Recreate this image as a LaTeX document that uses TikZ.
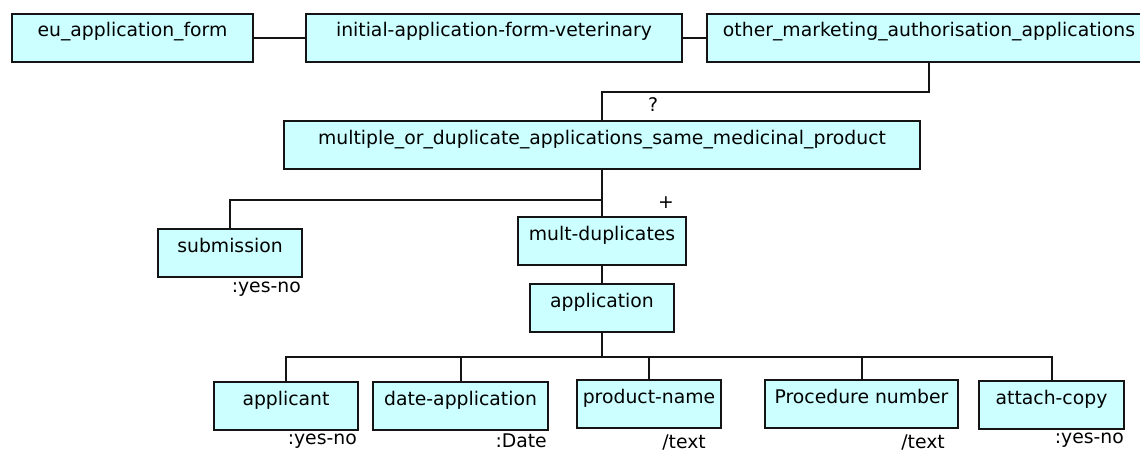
\documentclass[tikz,border=0pt]{standalone}
\usepackage{fontspec}
\setmainfont{DejaVu Sans}
\usetikzlibrary{positioning}
\definecolor{boxColor}{HTML}{CCFFFF}
\definecolor{boxBorder}{HTML}{141414}

\begin{document}
\begin{tikzpicture}[
    x=1pt, y=1pt,
    every node/.style={font=\fontsize{18.8}{22}\selectfont},
    elembox/.style={
        rectangle,
        draw=boxBorder,
        fill=boxColor,
        line width=2pt,
        inner xsep=0pt,
        inner ysep=0pt,
        text height=23pt,
        text depth=25pt,
        anchor=north west,
    },
    typelabel/.style={
        inner sep=0pt,
    },
    cardlabel/.style={
        inner sep=0pt,
    },
    link/.style={
        line width=2pt,
        draw=boxBorder,
    },
]
\useasboundingbox (0,0) rectangle (1140,-452);

% ===== Fila superior =====
\node[elembox, minimum width=241pt] (euform) at (11,-13) {eu\_application\_form};
\node[elembox, minimum width=376pt] (initform) at (305,-13) {initial-application-form-veterinary};
\node[elembox, minimum width=444pt] (othermaa) at (706,-13) {other\_marketing\_authorisation\_applications};

% ===== Nivel medio =====
\node[elembox, minimum width=636pt] (multiple) at (283,-120) {multiple\_or\_duplicate\_applications\_same\_medicinal\_product};
\node[elembox, minimum width=144pt] (submission) at (157,-228) {submission};
\node[elembox, minimum width=168pt] (multdup) at (517,-216) {mult-duplicates};
\node[elembox, minimum width=144pt] (application) at (529,-283) {application};

% ===== Fila inferior =====
\node[elembox, minimum width=144pt] (applicant) at (213,-381) {applicant};
\node[elembox, minimum width=175pt] (dateapp) at (372,-381) {date-application};
\node[elembox, minimum width=144pt] (prodname) at (576,-379) {product-name};
\node[elembox, minimum width=193pt] (procnum) at (764,-379) {Procedure number};
\node[elembox, minimum width=145pt] (attach) at (978,-380) {attach-copy};

% ===== Tipos =====
\node[typelabel, below left=4pt and 2pt of submission.south east] (submissiontype) {:yes-no};
\node[typelabel, below left=3pt and 2pt of applicant.south east] (applicanttype) {:yes-no};
\node[typelabel, below left=3pt and 2pt of dateapp.south east] (dateapptype) {:Date};
\node[typelabel, below left=6pt and 16pt of prodname.south east] (prodnametype) {/text};
\node[typelabel, below left=6pt and 14pt of procnum.south east] (procnumtype) {/text};
\node[typelabel, below left=3pt and 1pt of attach.south east] (attachtype) {:yes-no};

% ===== Cardinalidad =====
\node[cardlabel] (optional) at (653,-105) {?};
\node[cardlabel] (repeat) at (666,-203) {+};

% ===== Relaciones =====
\draw[link] (euform.east) -- (initform.west);
\draw[link] (initform.east) -- (othermaa.west);
\draw[link] (othermaa.south) -- ++(0,-29) -| (multiple.north);
\draw[link] (multiple.south) -- ++(0,-30) -| (submission.north);
\draw[link] (multiple.south) -- (multdup.north);
\draw[link] (multdup.south) -- (application.north);
\foreach \child in {applicant, dateapp, prodname, procnum, attach}
    \draw[link] (application.south) -- ++(0,-24) -| (\child.north);

\end{tikzpicture}
\end{document}
